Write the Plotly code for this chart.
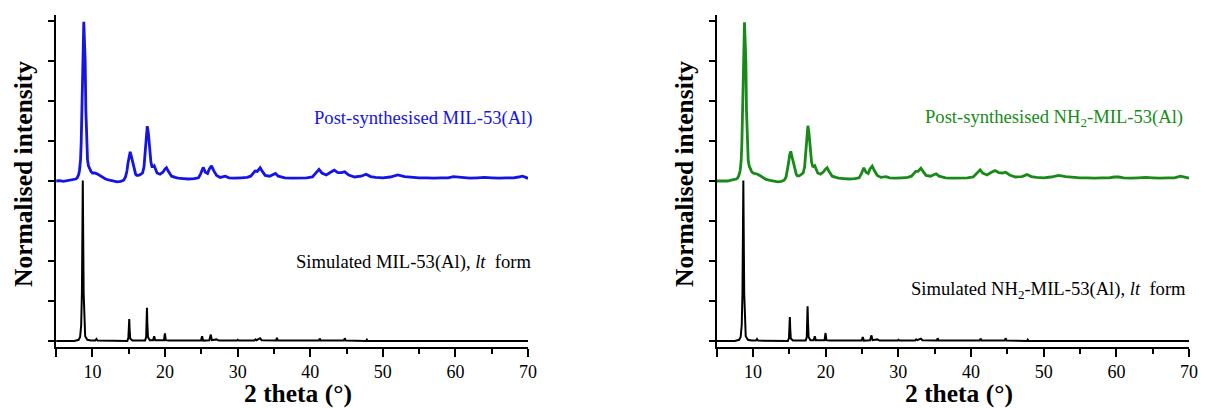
import plotly.graph_objects as go

# ---------------- data (2 theta in degrees, normalised intensity in axis-tick units) -------------
# Left panel: experimental (post-synthesised MIL-53(Al)), offset stacked above simulated pattern
exp1_x = [5.0, 5.5, 6.0, 6.5, 7.0, 7.4, 7.7, 7.9, 8.1, 8.22, 8.36, 8.45, 8.54, 8.61, 8.68, 8.75, 8.81,
          8.88, 8.95, 9.0, 9.09, 9.2, 9.32, 9.45, 9.6, 9.8, 10.0, 10.3, 10.64, 11.1, 11.5, 11.8,
          12.2, 12.8, 13.4, 13.9, 14.3, 14.55, 14.75, 14.9, 15.05, 15.2, 15.35, 15.57, 15.75, 15.95,
          16.1, 16.35, 16.6, 16.9, 17.1, 17.26, 17.42, 17.55, 17.7, 17.9, 18.05, 18.2, 18.35, 18.5,
          18.65, 18.9, 19.3, 19.7, 20.0, 20.2, 20.45, 20.9, 21.4, 21.8, 22.5, 23.2, 24.0, 24.6, 24.9,
          25.25, 25.55, 25.85, 26.1, 26.4, 26.7, 27.1, 27.6, 28.3, 28.8, 29.5, 30.5, 31.3, 31.8, 32.4,
          32.7, 33.1, 33.4, 33.8, 34.4, 35.2, 35.6, 36.5, 37.5, 38.5, 39.5, 40.3, 40.8, 41.2, 41.6,
          42.2, 42.8, 43.3, 43.8, 44.3, 44.75, 45.3, 46.1, 47.0, 47.7, 48.3, 49.0, 50.0, 51.0, 52.05,
          53.0, 54.0, 55.0, 56.0, 57.0, 58.0, 59.0, 59.7, 60.3, 61.0, 62.0, 63.0, 64.0, 65.0, 66.0,
          67.0, 68.0, 68.7, 69.2, 69.7, 70.0]
exp1_y = [4.00, 4.01, 3.99, 4.01, 4.02, 4.03, 4.05, 4.08, 4.16, 4.27, 4.53, 4.95, 5.78, 6.45, 7.03, 7.6, 7.98,
          7.6, 7.25, 7.0, 5.78, 5.0, 4.53, 4.38, 4.3, 4.24, 4.2, 4.2, 4.18, 4.12, 4.08, 4.05,
          4.03, 4.0, 3.98, 3.99, 4.02, 4.1, 4.25, 4.45, 4.65, 4.73, 4.62, 4.42, 4.27, 4.17,
          4.14, 4.14, 4.16, 4.2, 4.35, 4.7, 5.15, 5.37, 5.2, 4.75, 4.48, 4.36, 4.36, 4.38,
          4.3, 4.2, 4.17, 4.22, 4.3, 4.33, 4.24, 4.12, 4.09, 4.07, 4.06, 4.05, 4.06, 4.08, 4.18,
          4.34, 4.22, 4.19, 4.3, 4.38, 4.26, 4.14, 4.09, 4.12, 4.08, 4.07, 4.08, 4.09, 4.12, 4.25,
          4.24, 4.33, 4.24, 4.14, 4.12, 4.19, 4.12, 4.08, 4.07, 4.07, 4.08, 4.1, 4.2, 4.29, 4.2,
          4.15, 4.22, 4.27, 4.21, 4.21, 4.23, 4.15, 4.1, 4.12, 4.17, 4.11, 4.09, 4.08, 4.1, 4.15,
          4.11, 4.09, 4.08, 4.08, 4.07, 4.08, 4.08, 4.11, 4.1, 4.08, 4.07, 4.08, 4.09, 4.08, 4.07,
          4.08, 4.08, 4.1, 4.12, 4.09, 4.06]

sim1_x = [5.0, 7.5, 8.1, 8.3, 8.45, 8.55, 8.62, 8.67, 8.72, 8.79, 8.88, 9.0, 9.3, 9.8, 10.4, 10.55,
          10.7, 14.8, 14.95, 15.02, 15.07, 15.12, 15.2, 15.5, 17.25, 17.4, 17.46, 17.51, 17.56, 17.65,
          17.9, 18.35, 18.5, 18.65, 19.85, 19.98, 20.1, 20.5, 24.95, 25.1, 25.25, 26.1, 26.3, 26.45,
          27.1, 27.4, 29.9, 30.0, 30.15, 32.3, 32.45, 32.6, 33.1, 33.3, 35.3, 35.4, 35.55, 41.2, 41.3,
          41.45, 44.65, 44.75, 44.9, 47.7, 47.8, 47.9, 70.0]
sim1_y = [0.0, 0.0, 0.03, 0.1, 0.4, 1.2, 2.8, 4.01, 2.8, 1.2, 0.4, 0.12, 0.03, 0.01, 0.01, 0.05,
          0.01, 0.0, 0.08, 0.3, 0.55, 0.3, 0.06, 0.01, 0.01, 0.1, 0.45, 0.83, 0.45, 0.1,
          0.02, 0.02, 0.12, 0.02, 0.02, 0.19, 0.02, 0.01, 0.01, 0.12, 0.01, 0.02, 0.16, 0.02,
          0.04, 0.01, 0.01, 0.03, 0.01, 0.01, 0.04, 0.02, 0.07, 0.02, 0.01, 0.08, 0.01, 0.01, 0.06,
          0.01, 0.01, 0.07, 0.01, 0.0, 0.03, 0.0, 0.0]

# Right panel: experimental (post-synthesised NH2-MIL-53(Al)) and simulated NH2-MIL-53(Al)
exp2_x = [5.0, 5.5, 6.0, 6.5, 7.0, 7.4, 7.7, 7.9, 8.1, 8.24, 8.38, 8.47, 8.56, 8.63, 8.7, 8.77, 8.83,
          8.9, 8.97, 9.02, 9.1, 9.22, 9.34, 9.47, 9.6, 9.8, 10.0, 10.3, 10.64, 11.1, 11.5, 11.8,
          12.2, 12.8, 13.4, 13.9, 14.3, 14.55, 14.75, 14.9, 15.05, 15.2, 15.35, 15.57, 15.75, 15.95,
          16.1, 16.35, 16.6, 16.9, 17.1, 17.26, 17.42, 17.55, 17.7, 17.9, 18.05, 18.2, 18.35, 18.5,
          18.65, 18.9, 19.3, 19.7, 20.0, 20.2, 20.45, 20.9, 21.4, 21.8, 22.5, 23.2, 24.0, 24.6, 24.9,
          25.25, 25.55, 25.85, 26.1, 26.4, 26.7, 27.1, 27.6, 28.3, 28.8, 29.5, 30.5, 31.3, 31.8, 32.4,
          32.7, 33.1, 33.4, 33.8, 34.4, 35.2, 35.6, 36.5, 37.5, 38.5, 39.5, 40.3, 40.8, 41.25, 41.6,
          42.2, 42.8, 43.3, 43.8, 44.3, 44.75, 45.3, 46.1, 47.0, 47.7, 48.3, 49.0, 50.0, 51.0, 52.05,
          53.0, 54.0, 55.0, 56.0, 57.0, 58.0, 59.0, 59.7, 60.3, 61.0, 62.0, 63.0, 64.0, 65.0, 66.0,
          67.0, 68.0, 68.8, 69.3, 69.7, 70.0]
exp2_y = [4.0, 4.0, 4.01, 4.0, 4.02, 4.03, 4.05, 4.08, 4.16, 4.27, 4.53, 4.95, 5.78, 6.45, 7.03, 7.6, 7.97,
          7.6, 7.25, 7.0, 5.78, 5.0, 4.53, 4.38, 4.3, 4.24, 4.2, 4.19, 4.17, 4.12, 4.07, 4.04,
          4.02, 4.0, 3.98, 3.99, 4.02, 4.1, 4.26, 4.46, 4.66, 4.74, 4.62, 4.42, 4.27, 4.17,
          4.13, 4.13, 4.16, 4.2, 4.35, 4.7, 5.15, 5.38, 5.2, 4.75, 4.48, 4.37, 4.36, 4.38,
          4.3, 4.2, 4.17, 4.23, 4.3, 4.33, 4.24, 4.12, 4.09, 4.07, 4.06, 4.05, 4.06, 4.08, 4.18,
          4.33, 4.22, 4.19, 4.3, 4.37, 4.26, 4.14, 4.09, 4.11, 4.08, 4.07, 4.08, 4.09, 4.12, 4.24,
          4.24, 4.32, 4.24, 4.14, 4.12, 4.18, 4.12, 4.08, 4.07, 4.07, 4.08, 4.1, 4.2, 4.28, 4.2,
          4.15, 4.22, 4.26, 4.21, 4.2, 4.22, 4.15, 4.1, 4.11, 4.16, 4.11, 4.09, 4.08, 4.1, 4.14,
          4.11, 4.09, 4.08, 4.08, 4.07, 4.08, 4.08, 4.1, 4.1, 4.08, 4.07, 4.08, 4.09, 4.08, 4.07,
          4.08, 4.08, 4.12, 4.1, 4.09, 4.07]

sim2_x = [5.0, 7.5, 8.1, 8.3, 8.45, 8.55, 8.62, 8.67, 8.72, 8.79, 8.88, 9.0, 9.3, 9.8, 10.4, 10.55,
          10.7, 14.8, 14.95, 15.02, 15.07, 15.12, 15.2, 15.5, 17.25, 17.4, 17.46, 17.51, 17.56, 17.65,
          17.9, 18.35, 18.5, 18.65, 19.85, 19.98, 20.1, 20.5, 24.95, 25.1, 25.25, 26.1, 26.3, 26.45,
          27.1, 27.4, 29.9, 30.0, 30.15, 32.3, 32.45, 32.6, 33.1, 33.3, 35.3, 35.4, 35.55, 41.2, 41.3,
          41.45, 44.65, 44.75, 44.9, 47.7, 47.8, 47.9, 70.0]
sim2_y = [0.0, 0.0, 0.03, 0.1, 0.4, 1.2, 2.8, 4.01, 2.8, 1.2, 0.4, 0.12, 0.03, 0.01, 0.01, 0.05,
          0.01, 0.0, 0.08, 0.32, 0.6, 0.32, 0.06, 0.01, 0.01, 0.1, 0.5, 0.87, 0.5, 0.1,
          0.02, 0.02, 0.12, 0.02, 0.02, 0.2, 0.02, 0.01, 0.01, 0.1, 0.01, 0.02, 0.14, 0.02,
          0.04, 0.01, 0.01, 0.03, 0.01, 0.01, 0.04, 0.02, 0.06, 0.02, 0.01, 0.07, 0.01, 0.01, 0.06,
          0.01, 0.01, 0.07, 0.01, 0.0, 0.03, 0.0, 0.0]

x_tickvals = [5, 10, 20, 30, 40, 50, 60, 70]
x_ticktext = ["", "10", "20", "30", "40", "50", "60", "70"]
x_minor = [15, 25, 35, 45, 55, 65]
y_tickvals = [0, 1, 2, 3, 4, 5, 6, 7, 8]

labels = {
    "exp1": "Post-synthesised MIL-53(Al)",
    "sim1": "Simulated MIL-53(Al), <i>lt</i>\u00a0 form",
    "exp2": "Post-synthesised NH<sub>2</sub>-MIL-53(Al)",
    "sim2": "Simulated NH<sub>2</sub>-MIL-53(Al), <i>lt</i>\u00a0 form",
}

BLUE = "#1414e6"
GREEN = "#188a18"
FONT = "Liberation Serif, Times New Roman, serif"

OFF = 8            # page body margin that offsets the figure inside the window
W, H = 1211 - OFF, 408 - OFF


def px(v):
    return (v - OFF) / W


def py(v):
    return (H - (v - OFF)) / H


fig = go.Figure()
fig.add_trace(go.Scatter(x=sim1_x, y=sim1_y, mode="lines", line=dict(color="black", width=2),
                         xaxis="x", yaxis="y", showlegend=False))
fig.add_trace(go.Scatter(x=exp1_x, y=exp1_y, mode="lines", line=dict(color=BLUE, width=2.8),
                         xaxis="x", yaxis="y", showlegend=False))
fig.add_trace(go.Scatter(x=sim2_x, y=sim2_y, mode="lines", line=dict(color="black", width=2),
                         xaxis="x2", yaxis="y2", showlegend=False))
fig.add_trace(go.Scatter(x=exp2_x, y=exp2_y, mode="lines", line=dict(color=GREEN, width=2.8),
                         xaxis="x2", yaxis="y2", showlegend=False))

xaxis_common = dict(range=[5, 70], showline=True, linecolor="black", linewidth=1.5,
                    ticks="outside", ticklen=8, tickwidth=1.5, tickcolor="black",
                    tickvals=x_tickvals, ticktext=x_ticktext, showgrid=False, zeroline=False,
                    tickfont=dict(family=FONT, size=18, color="black"),
                    minor=dict(tickvals=x_minor, ticks="outside", ticklen=5, tickwidth=1.5,
                               tickcolor="black", showgrid=False))
yaxis_common = dict(range=[-0.15, 8.15], showline=True, linecolor="black", linewidth=1.5,
                    ticks="outside", ticklen=6, tickwidth=1.5, tickcolor="black",
                    tickvals=y_tickvals, showticklabels=False, showgrid=False, zeroline=False)

ydom = [py(347), py(15)]
fig.update_layout(
    width=W, height=H,
    margin=dict(l=0, r=0, t=0, b=0),
    paper_bgcolor="white", plot_bgcolor="white",
    font=dict(family=FONT, size=18, color="black"),
    xaxis=dict(domain=[px(56.5), px(532)], anchor="y", **xaxis_common),
    yaxis=dict(domain=ydom, anchor="x", **yaxis_common),
    xaxis2=dict(domain=[px(722), px(1198)], anchor="y2", **xaxis_common),
    yaxis2=dict(domain=ydom, anchor="x2", **yaxis_common),
)

title_font = dict(family=FONT, size=25.5, color="black", weight="bold")
ann = []
for cx in (300, 966):
    ann.append(dict(text="2 theta (°)", x=px(cx), y=py(393), xref="paper", yref="paper",
                    xanchor="center", yanchor="middle", showarrow=False, font=title_font))
for cx in (23, 689):
    ann.append(dict(text="Normalised intensity", x=px(cx), y=py(174), xref="paper", yref="paper",
                    xanchor="center", yanchor="middle", textangle=-90, showarrow=False,
                    font=title_font))

lab_size = 18.6
ann.append(dict(text=labels["exp1"], x=px(538), y=py(118), xref="paper", yref="paper",
                xanchor="right", yanchor="middle", showarrow=False,
                font=dict(family=FONT, size=lab_size, color=BLUE)))
ann.append(dict(text=labels["sim1"], x=px(538), y=py(262), xref="paper", yref="paper",
                xanchor="right", yanchor="middle", showarrow=False,
                font=dict(family=FONT, size=lab_size, color="black")))
ann.append(dict(text=labels["exp2"], x=px(1194), y=py(118), xref="paper", yref="paper",
                xanchor="right", yanchor="middle", showarrow=False,
                font=dict(family=FONT, size=lab_size, color=GREEN)))
ann.append(dict(text=labels["sim2"], x=px(1197), y=py(290), xref="paper", yref="paper",
                xanchor="right", yanchor="middle", showarrow=False,
                font=dict(family=FONT, size=lab_size, color="black")))
fig.update_layout(annotations=ann)

fig.write_html("out.html")
